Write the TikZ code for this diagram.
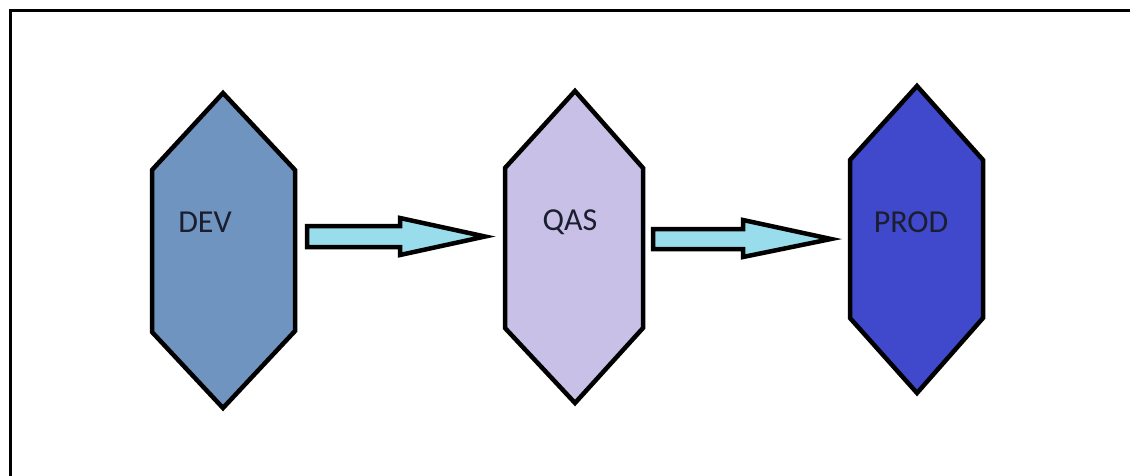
\documentclass[tikz,border=0pt]{standalone}
\usepackage{fontspec}
\setmainfont{Carlito}
\definecolor{devfill}{HTML}{7094C0}
\definecolor{qasfill}{HTML}{C8C0E6}
\definecolor{prodfill}{HTML}{4049CC}
\definecolor{arrowfill}{HTML}{99DDEC}
\definecolor{labelcol}{HTML}{1A1E2E}
\tikzset{
  hexa/.style={draw=black, line width=4.5pt, line join=miter},
  blockarrow/.style={draw=black, fill=arrowfill, line width=4.5pt, line join=miter},
  lbl/.style={font=\fontsize{32}{36}\selectfont, text=labelcol, inner sep=0pt},
  frame/.style={draw=black, line width=3pt}
}
\begin{document}
\begin{tikzpicture}[x=1pt,y=-1pt]
\useasboundingbox (0,0) rectangle (1130,475);
\fill[white] (0,0) rectangle (1130,475);
% frame (left and top edges visible)
\draw[frame] (10,476) -- (10,10) -- (1131,10);
% hexagons
\draw[hexa, fill=devfill] (223,93) -- (295,170) -- (295,331) -- (223,408) -- (152,332) -- (152,170) -- cycle;
\draw[hexa, fill=qasfill] (575,91) -- (643,168) -- (643,328) -- (575,403) -- (505,328) -- (505,168) -- cycle;
\draw[hexa, fill=prodfill] (917,86) -- (983,160) -- (983,318) -- (917,393) -- (850,318) -- (850,160) -- cycle;
% labels
\node[lbl] (dev) at (205,222) {DEV};
\node[lbl] (qas) at (570,222) {QAS};
\node[lbl] (prod) at (911,222) {PROD};
% block arrows
\draw[blockarrow] (307,226) -- (400,226) -- (400,218) -- (485,236.5) -- (400,255) -- (400,247) -- (307,247) -- cycle;
\draw[blockarrow] (653,229) -- (743,229) -- (743,220) -- (831,239) -- (743,257) -- (743,249) -- (653,249) -- cycle;
\end{tikzpicture}
\end{document}
